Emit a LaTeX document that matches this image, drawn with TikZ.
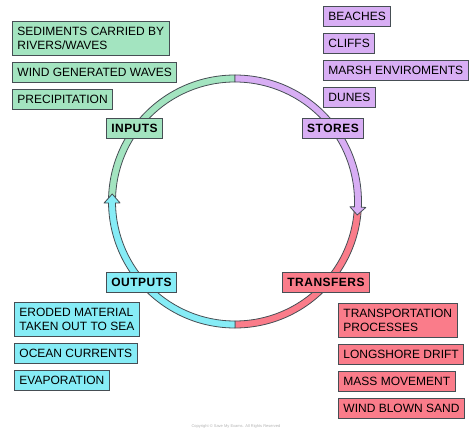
\documentclass[tikz,border=0pt]{standalone}
\usepackage{fontspec}
\setmainfont{Liberation Sans}
\usetikzlibrary{positioning}
\definecolor{cIn}{RGB}{163,228,192}
\definecolor{cStore}{RGB}{216,174,244}
\definecolor{cOut}{RGB}{134,236,246}
\definecolor{cTrans}{RGB}{250,124,138}
\definecolor{cEdge}{RGB}{70,78,84}

\begin{document}
\begin{tikzpicture}[x=1pt, y=1pt,
    item/.style={draw=cEdge, line width=0.9pt, align=left, anchor=north west,
      minimum height=20pt, inner xsep=5pt, inner ysep=5.5pt,
      font=\fontsize{12}{14.5}\selectfont},
    stage/.style={draw=cEdge, line width=0.9pt, minimum height=20pt, inner xsep=5pt,
      font=\fontsize{12}{14.5}\selectfont\bfseries\addfontfeature{LetterSpace=4}},
    band/.style={draw=cEdge, line width=0.8pt, line join=round}]
  \useasboundingbox (0,0) rectangle (474,434);
  \coordinate (cen) at (235,232.5);

  % the cycle
  \fill[band, fill=cIn] ([shift={(90:126.5)}]cen) arc[start angle=90, end angle=180, radius=126.5]
    -- ([shift={(180:119.5)}]cen) arc[start angle=180, end angle=90, radius=119.5] -- cycle;
  \fill[band, fill=cTrans] ([shift={(0:126.5)}]cen) arc[start angle=0, end angle=-90, radius=126.5]
    -- ([shift={(-90:119.5)}]cen) arc[start angle=-90, end angle=0, radius=119.5] -- cycle;
  \fill[band, fill=cOut] ([shift={(270:126.5)}]cen) arc[start angle=270, end angle=180.7, radius=126.5]
    -- ([shift={(180.7:131)}]cen) -- ([shift={(176.5:123)}]cen) -- ([shift={(180.7:115)}]cen)
    -- ([shift={(180.7:119.5)}]cen) arc[start angle=180.7, end angle=270, radius=119.5] -- cycle;
  \fill[band, fill=cStore] ([shift={(90:126.5)}]cen) arc[start angle=90, end angle=-2.6, radius=126.5]
    -- ([shift={(-2.6:131)}]cen) -- ([shift={(-6.3:123)}]cen) -- ([shift={(-2.6:115)}]cen)
    -- ([shift={(-2.6:119.5)}]cen) arc[start angle=-2.6, end angle=90, radius=119.5] -- cycle;

  % stages on the cycle
  \node[stage, fill=cIn] (inputs) at (134.5,305.5) {INPUTS};
  \node[stage, fill=cStore] (stores) at (333,305.5) {STORES};
  \node[stage, fill=cOut] (outputs) at (141.5,152) {OUTPUTS};
  \node[stage, fill=cTrans] (transfers) at (326,152) {TRANSFERS};

  % inputs
  \node[item, fill=cIn] (sed) at (12,413) {SEDIMENTS CARRIED BY\\RIVERS/WAVES};
  \node[item, fill=cIn, below=6pt of sed.south west, anchor=north west] (wind) {WIND GENERATED WAVES};
  \node[item, fill=cIn, below=6pt of wind.south west, anchor=north west] (precip) {PRECIPITATION};

  % stores
  \node[item, fill=cStore] (beach) at (323,428) {BEACHES};
  \node[item, fill=cStore, below=6pt of beach.south west, anchor=north west] (cliff) {CLIFFS};
  \node[item, fill=cStore, below=6pt of cliff.south west, anchor=north west] (marsh) {MARSH ENVIROMENTS};
  \node[item, fill=cStore, below=6pt of marsh.south west, anchor=north west] (dune) {DUNES};

  % outputs
  \node[item, fill=cOut] (erode) at (14,132) {ERODED MATERIAL\\TAKEN OUT TO SEA};
  \node[item, fill=cOut, below=6pt of erode.south west, anchor=north west] (ocean) {OCEAN CURRENTS};
  \node[item, fill=cOut, below=6pt of ocean.south west, anchor=north west] (evap) {EVAPORATION};

  % transfers
  \node[item, fill=cTrans] (transp) at (338,131) {TRANSPORTATION\\PROCESSES};
  \node[item, fill=cTrans, below=6pt of transp.south west, anchor=north west] (drift) {LONGSHORE DRIFT};
  \node[item, fill=cTrans, below=6pt of drift.south west, anchor=north west] (mass) {MASS MOVEMENT};
  \node[item, fill=cTrans, below=6pt of mass.south west, anchor=north west] (sand) {WIND BLOWN SAND};

  \node[text=gray!60, font=\fontsize{4}{5}\selectfont] (copy) at (236,8)
    {Copyright \textcopyright{} Save My Exams. All Rights Reserved};
\end{tikzpicture}
\end{document}
